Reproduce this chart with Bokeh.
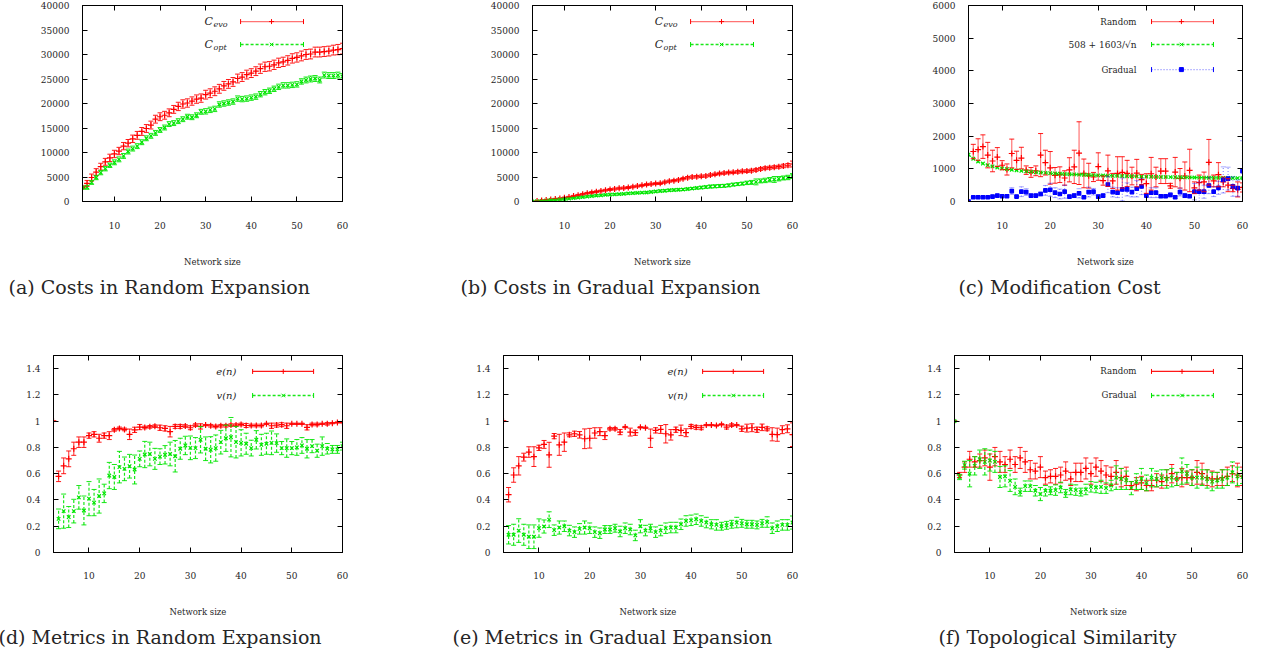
import math
from bokeh.plotting import figure
from bokeh.layouts import column, row
from bokeh.models import (ColumnDataSource, Whisker, TeeHead, LinearAxis, FixedTicker,
                          PrintfTickFormatter, CustomJSTickFormatter, Label, Title, Range1d,
                          GlobalInlineStyleSheet)
from bokeh.embed import file_html
from bokeh.resources import INLINE

# ---------------- data ----------------
N = list(range(3, 61))
X_TICKS = [10, 20, 30, 40, 50, 60]
COST_TICKS = [0, 5000, 10000, 15000, 20000, 25000, 30000, 35000, 40000]
MOD_TICKS = [0, 1000, 2000, 3000, 4000, 5000, 6000]
METRIC_TICKS = [0, 0.2, 0.4, 0.6, 0.8, 1.0, 1.2, 1.4]

# (a) Costs in Random Expansion
A_EVO = [2900, 3700, 4900, 6000, 7100, 8100, 8900, 9700, 10300, 11300,
         11900, 12800, 13500, 14300, 14900, 15600, 16800, 17300, 17600, 18100,
         18800, 19400, 19900, 20100, 20500, 20900, 21100, 21800, 22100, 22500,
         23000, 23600, 24000, 24400, 25100, 25400, 25900, 26200, 26600, 27100,
         27500, 27600, 27900, 28300, 28500, 28800, 29200, 29400, 29700, 30000,
         30100, 30500, 30500, 30600, 30700, 30900, 31000, 31200]
A_EVO_ERR = [300, 600, 700, 700, 700, 700, 750, 750, 750, 750,
             750, 750, 800, 800, 800, 800, 800, 800, 800, 800,
             800, 850, 850, 850, 850, 850, 850, 900, 900, 900,
             900, 900, 900, 900, 900, 900, 900, 900, 900, 950,
             950, 950, 950, 950, 950, 950, 950, 950, 1000, 1000,
             1000, 1000, 1000, 1000, 1000, 1000, 1050, 1100]
A_OPT = [2800, 2900, 3900, 4900, 5900, 6700, 7400, 8000, 8600, 9300,
         10200, 10800, 11300, 12100, 12900, 13400, 14000, 14600, 15100, 15800,
         16000, 16400, 16800, 17300, 17200, 17600, 18300, 18400, 18700, 18900,
         19800, 20000, 20200, 20400, 21000, 20900, 21000, 21200, 21400, 21900,
         22300, 22600, 23000, 23400, 23700, 23700, 23800, 23900, 24500, 24800,
         25000, 25100, 24800, 25800, 25700, 25700, 25800, 25500]
A_OPT_ERR = [200, 400, 400, 450, 450, 450, 450, 500, 500, 500,
             500, 500, 500, 500, 500, 500, 500, 500, 500, 500,
             500, 500, 500, 500, 500, 500, 500, 550, 550, 550,
             550, 550, 550, 550, 550, 550, 550, 550, 550, 550,
             550, 550, 550, 550, 550, 550, 550, 550, 550, 600,
             600, 600, 600, 600, 600, 600, 600, 600]

# (b) Costs in Gradual Expansion
B_EVO = [0, 100, 200, 300, 400, 500, 600, 750, 900, 1100,
         1300, 1500, 1700, 1850, 2000, 2150, 2300, 2450, 2550, 2700,
         2750, 2850, 3000, 3150, 3300, 3450, 3550, 3650, 3700, 3950,
         4150, 4250, 4400, 4650, 4850, 5000, 5050, 5150, 5200, 5400,
         5550, 5700, 5800, 5900, 5950, 6050, 6150, 6200, 6300, 6450,
         6650, 6800, 6900, 7000, 7100, 7250, 7400, 7650]
B_EVO_ERR = [0, 50, 80, 100, 100, 120, 120, 150, 150, 150,
             150, 150, 150, 180, 180, 180, 180, 200, 200, 200,
             200, 200, 200, 200, 200, 200, 200, 200, 220, 220,
             220, 220, 220, 220, 250, 250, 250, 250, 250, 250,
             250, 250, 250, 250, 250, 280, 280, 280, 300, 300,
             300, 300, 300, 300, 300, 350, 350, 600]
B_OPT = [0, 50, 100, 200, 300, 350, 450, 500, 600, 700,
         800, 900, 1000, 1100, 1200, 1250, 1350, 1400, 1450, 1500,
         1550, 1650, 1700, 1750, 1800, 1850, 1950, 2050, 2150, 2200,
         2300, 2350, 2400, 2450, 2550, 2650, 2750, 2850, 2950, 3050,
         3100, 3150, 3200, 3300, 3450, 3550, 3650, 3800, 3900, 4000,
         4200, 4300, 4450, 4500, 4650, 4800, 4900, 5200]
B_OPT_ERR = [0, 40, 60, 80, 100, 100, 100, 120, 120, 120,
             120, 130, 130, 130, 140, 140, 140, 150, 150, 150,
             150, 150, 150, 150, 150, 150, 160, 160, 200, 200,
             200, 200, 200, 200, 200, 200, 200, 250, 250, 300,
             300, 300, 300, 300, 300, 300, 300, 350, 400, 600,
             400, 450, 450, 600, 450, 400, 450, 500]

# (c) Modification Cost
C_RAND = [0, 1530, 1590, 1680, 1420, 1240, 1360, 1110, 980, 1470,
          1260, 1330, 960, 890, 940, 1420, 1190, 1030, 800, 820,
          720, 970, 1060, 1480, 860, 790, 750, 1070, 640, 940,
          630, 860, 890, 860, 780, 870, 670, 550, 850, 750,
          930, 930, 480, 900, 710, 780, 950, 420, 580, 600,
          1200, 630, 820, 600, 500, 400, 370, 430]
C_RAND_ERR = [0, 220, 330, 360, 390, 330, 290, 140, 170, 440,
              280, 330, 130, 150, 150, 660, 380, 500, 240, 240,
              220, 370, 510, 960, 440, 380, 140, 420, 140, 480,
              230, 510, 480, 400, 270, 420, 160, 300, 500, 300,
              380, 380, 75, 450, 300, 430, 650, 180, 230, 300,
              700, 180, 370, 150, 200, 100, 230, 140]
C_FIT = [1434, 1310, 1225, 1162, 1114, 1075, 1042, 1015, 991, 971,
         953, 936, 922, 909, 897, 886, 876, 866, 858, 850,
         842, 835, 829, 822, 817, 811, 806, 801, 796, 791,
         787, 783, 779, 775, 772, 768, 765, 761, 758, 755,
         752, 750, 747, 744, 742, 739, 737, 735, 732, 730,
         728, 726, 724, 722, 720, 718, 717, 715]
C_GRAD = [0, 130, 130, 130, 130, 150, 180, 160, 160, 320,
          150, 300, 290, 180, 180, 230, 340, 360, 270, 230,
          300, 150, 180, 250, 130, 290, 300, 150, 180, 520,
          290, 270, 370, 370, 290, 390, 460, 180, 270, 270,
          160, 160, 200, 130, 290, 180, 160, 300, 300, 300,
          490, 300, 420, 660, 700, 460, 410, 930]
C_GRAD_ERR = [0, 20, 20, 20, 20, 20, 30, 20, 20, 100,
              30, 150, 100, 40, 40, 60, 150, 200, 150, 150,
              200, 40, 60, 140, 30, 150, 100, 50, 40, 250,
              150, 150, 350, 200, 150, 250, 250, 40, 150, 150,
              40, 40, 60, 40, 120, 60, 40, 250, 300, 200,
              250, 150, 200, 400, 350, 300, 250, 930]

# (d) Metrics in Random Expansion
D_E = [1.0, 0.58, 0.66, 0.713, 0.79, 0.84, 0.84, 0.89, 0.90, 0.87,
       0.89, 0.89, 0.934, 0.945, 0.937, 0.90, 0.934, 0.955, 0.952, 0.957,
       0.962, 0.95, 0.945, 0.92, 0.96, 0.96, 0.963, 0.95, 0.97, 0.96,
       0.97, 0.965, 0.96, 0.965, 0.965, 0.97, 0.97, 0.975, 0.967, 0.967,
       0.967, 0.967, 0.98, 0.965, 0.97, 0.973, 0.965, 0.98, 0.98, 0.98,
       0.953, 0.975, 0.975, 0.98, 0.98, 0.985, 0.99, 0.99]
D_E_ERR = [0, 0.04, 0.06, 0.06, 0.05, 0.04, 0.04, 0.02, 0.02, 0.03,
           0.02, 0.03, 0.01, 0.01, 0.01, 0.04, 0.02, 0.02, 0.01, 0.01,
           0.01, 0.02, 0.02, 0.04, 0.015, 0.015, 0.01, 0.015, 0.01, 0.02,
           0.005, 0.01, 0.01, 0.01, 0.01, 0.01, 0.01, 0.01, 0.015, 0.01,
           0.01, 0.01, 0.005, 0.02, 0.015, 0.015, 0.02, 0.005, 0.005, 0.005,
           0.02, 0.01, 0.01, 0.005, 0.01, 0.005, 0.005, 0.005]
D_V = [None, 0.256, 0.315, 0.27, 0.315, 0.42, 0.32, 0.41, 0.38, 0.43,
       0.45, 0.586, 0.575, 0.65, 0.637, 0.657, 0.632, 0.713, 0.746, 0.75,
       0.713, 0.73, 0.744, 0.75, 0.733, 0.79, 0.815, 0.797, 0.795, 0.858,
       0.79, 0.782, 0.795, 0.84, 0.87, 0.878, 0.84, 0.835, 0.828, 0.795,
       0.858, 0.82, 0.828, 0.835, 0.833, 0.795, 0.795, 0.795, 0.8, 0.815,
       0.79, 0.81, 0.775, 0.81, 0.79, 0.785, 0.785, 0.81]
D_V_ERR = [None, 0.075, 0.13, 0.08, 0.09, 0.09, 0.11, 0.13, 0.1, 0.13,
           0.07, 0.1, 0.095, 0.12, 0.09, 0.09, 0.11, 0.06, 0.1, 0.09,
           0.08, 0.06, 0.07, 0.09, 0.12, 0.08, 0.07, 0.09, 0.08, 0.1,
           0.09, 0.1, 0.1, 0.09, 0.1, 0.15, 0.12, 0.1, 0.08, 0.06,
           0.07, 0.08, 0.08, 0.09, 0.07, 0.05, 0.07, 0.05, 0.06, 0.06,
           0.07, 0.05, 0.05, 0.07, 0.04, 0.03, 0.03, 0.03]

# (e) Metrics in Gradual Expansion
E_E = [1.0, 0.44, 0.59, 0.66, 0.726, 0.765, 0.73, 0.797, 0.823, 0.744,
       0.886, 0.82, 0.84, 0.896, 0.904, 0.896, 0.866, 0.87, 0.91, 0.92,
       0.89, 0.942, 0.942, 0.917, 0.955, 0.917, 0.912, 0.953, 0.95, 0.87,
       0.93, 0.937, 0.904, 0.896, 0.935, 0.93, 0.912, 0.96, 0.953, 0.95,
       0.97, 0.97, 0.967, 0.975, 0.955, 0.97, 0.97, 0.942, 0.947, 0.95,
       0.935, 0.953, 0.942, 0.9, 0.897, 0.935, 0.942, 0.897]
E_E_ERR = [0, 0.055, 0.055, 0.07, 0.03, 0.04, 0.075, 0.02, 0.03, 0.095,
           0.02, 0.08, 0.07, 0.015, 0.02, 0.025, 0.075, 0.075, 0.04, 0.03,
           0.03, 0.01, 0.01, 0.02, 0.005, 0.03, 0.02, 0.005, 0.005, 0.07,
           0.02, 0.03, 0.07, 0.04, 0.02, 0.04, 0.03, 0.015, 0.015, 0.015,
           0.005, 0.005, 0.005, 0.005, 0.015, 0.01, 0.005, 0.02, 0.03, 0.03,
           0.02, 0.025, 0.015, 0.05, 0.05, 0.03, 0.03, 0.09]
E_V = [None, 0.135, 0.135, 0.167, 0.135, 0.12, 0.12, 0.186, 0.198, 0.25,
       0.17, 0.19, 0.2, 0.167, 0.155, 0.18, 0.19, 0.185, 0.155, 0.147,
       0.175, 0.175, 0.185, 0.16, 0.185, 0.175, 0.13, 0.2, 0.167, 0.185,
       0.155, 0.167, 0.185, 0.19, 0.19, 0.215, 0.24, 0.245, 0.253, 0.24,
       0.228, 0.215, 0.21, 0.2, 0.207, 0.215, 0.228, 0.222, 0.215, 0.215,
       0.21, 0.222, 0.232, 0.185, 0.2, 0.21, 0.21, 0.228]
E_V_ERR = [None, 0.07, 0.08, 0.09, 0.08, 0.09, 0.09, 0.07, 0.05, 0.06,
           0.04, 0.05, 0.04, 0.04, 0.04, 0.04, 0.05, 0.04, 0.04, 0.04,
           0.03, 0.03, 0.03, 0.04, 0.04, 0.04, 0.04, 0.05, 0.04, 0.03,
           0.04, 0.04, 0.04, 0.04, 0.04, 0.04, 0.04, 0.04, 0.04, 0.04,
           0.04, 0.035, 0.04, 0.03, 0.03, 0.03, 0.04, 0.03, 0.03, 0.03,
           0.03, 0.03, 0.04, 0.04, 0.04, 0.04, 0.04, 0.05]

# (f) Topological Similarity
F_RAND = [1.0, 0.59, 0.65, 0.71, 0.69, 0.70, 0.72, 0.65, 0.73, 0.69,
          0.67, 0.71, 0.67, 0.72, 0.69, 0.63, 0.62, 0.65, 0.57, 0.58,
          0.58, 0.59, 0.62, 0.56, 0.61, 0.61, 0.64, 0.60, 0.65, 0.62,
          0.59, 0.58, 0.61, 0.57, 0.58, 0.51, 0.52, 0.53, 0.51, 0.51,
          0.55, 0.54, 0.57, 0.60, 0.56, 0.57, 0.57, 0.57, 0.61, 0.60,
          0.57, 0.56, 0.56, 0.57, 0.58, 0.60, 0.59, 0.58]
F_RAND_ERR = [0, 0.02, 0.04, 0.06, 0.04, 0.05, 0.06, 0.10, 0.07, 0.08,
              0.06, 0.07, 0.06, 0.08, 0.08, 0.07, 0.06, 0.08, 0.05, 0.05,
              0.06, 0.06, 0.07, 0.05, 0.07, 0.07, 0.08, 0.08, 0.07, 0.08,
              0.07, 0.07, 0.09, 0.07, 0.07, 0.03, 0.05, 0.05, 0.04, 0.04,
              0.05, 0.05, 0.06, 0.07, 0.05, 0.07, 0.05, 0.06, 0.09, 0.08,
              0.06, 0.06, 0.05, 0.06, 0.07, 0.06, 0.09, 0.07]
F_GRAD = [1.0, 0.575, 0.665, 0.60, 0.66, 0.71, 0.69, 0.70, 0.69, 0.575,
          0.58, 0.545, 0.50, 0.46, 0.505, 0.505, 0.47, 0.445, 0.47, 0.47,
          0.475, 0.495, 0.45, 0.48, 0.475, 0.46, 0.48, 0.50, 0.495, 0.50,
          0.49, 0.51, 0.57, 0.56, 0.55, 0.49, 0.54, 0.56, 0.53, 0.57,
          0.56, 0.57, 0.56, 0.57, 0.56, 0.62, 0.60, 0.57, 0.57, 0.57,
          0.56, 0.54, 0.55, 0.56, 0.57, 0.61, 0.58, 0.575]
F_GRAD_ERR = [0, 0.02, 0.03, 0.1, 0.07, 0.07, 0.1, 0.08, 0.08, 0.08,
              0.08, 0.08, 0.06, 0.03, 0.04, 0.04, 0.04, 0.05, 0.04, 0.03,
              0.04, 0.04, 0.03, 0.04, 0.04, 0.03, 0.04, 0.04, 0.04, 0.05,
              0.04, 0.04, 0.09, 0.08, 0.07, 0.05, 0.06, 0.08, 0.06, 0.07,
              0.06, 0.06, 0.07, 0.07, 0.05, 0.1, 0.07, 0.06, 0.08, 0.06,
              0.07, 0.07, 0.06, 0.07, 0.06, 0.08, 0.07, 0.05]

CAPTIONS = ["(a) Costs in Random Expansion", "(b) Costs in Gradual Expansion",
            "(c) Modification Cost", "(d) Metrics in Random Expansion",
            "(e) Metrics in Gradual Expansion", "(f) Topological Similarity"]

# ---------------- style ----------------
FONT = "DejaVu Serif"
TXT = "#262626"
RED = "#ff0000"
GREEN = "#00e600"
BLUE = "#0000ff"
SOLID = "solid"
DASHED = "3 2"
DOTTED = "1 2"


def make_fig(xr, yr, yticks, fw, fh, bl, br, bt, bb, caption, cap_off, tick_standoff):
    p = figure(frame_width=fw, frame_height=fh, x_range=Range1d(*xr), y_range=Range1d(*yr),
               output_backend="svg", toolbar_location=None,
               x_axis_location=None, y_axis_location=None,
               min_border_left=bl, min_border_right=br, min_border_top=bt, min_border_bottom=bb,
               background_fill_color="white", border_fill_color="white")
    p.outline_line_color = "black"
    p.outline_line_alpha = 1.0
    for g in p.grid:
        g.visible = False
    blank = CustomJSTickFormatter(code="return ''")
    xb = LinearAxis(ticker=FixedTicker(ticks=X_TICKS), formatter=PrintfTickFormatter(format="%g"),
                    axis_label="Network size")
    yl = LinearAxis(ticker=FixedTicker(ticks=yticks), formatter=PrintfTickFormatter(format="%g"))
    xt = LinearAxis(ticker=FixedTicker(ticks=X_TICKS), formatter=blank)
    yrt = LinearAxis(ticker=FixedTicker(ticks=yticks), formatter=blank)
    p.add_layout(xb, "below")
    p.add_layout(yl, "left")
    p.add_layout(xt, "above")
    p.add_layout(yrt, "right")
    for ax in (xb, yl, xt, yrt):
        ax.major_tick_in = 5
        ax.major_tick_out = 0
        ax.minor_tick_line_color = None
        ax.axis_line_color = "black"
        ax.major_tick_line_color = "black"
        ax.major_label_text_font = FONT
        ax.major_label_text_font_size = "9px"
        ax.major_label_text_color = TXT
    xt.major_label_standoff = 0
    yrt.major_label_standoff = 0
    yl.major_label_standoff = 13
    xb.major_label_standoff = tick_standoff
    xb.axis_label_text_font = FONT
    xb.axis_label_text_font_size = "8.5px"
    xb.axis_label_text_font_style = "normal"
    xb.axis_label_text_color = TXT
    xb.axis_label_standoff = 25
    cap = Title(text=caption, align="left", offset=cap_off, text_font=FONT,
                text_font_size="19px", text_font_style="normal", text_color=TXT, standoff=8)
    p.add_layout(cap, "below")
    return p


def err_series(p, ys, es, color, dash, marker, msize, alpha, head_alpha=0.9):
    pts = [(n, y, e) for n, y, e in zip(N, ys, es) if y is not None]
    src = ColumnDataSource(dict(x=[t[0] for t in pts], y=[t[1] for t in pts],
                                lo=[t[1] - t[2] for t in pts], hi=[t[1] + t[2] for t in pts]))
    w = Whisker(source=src, base="x", lower="lo", upper="hi", dimension="height",
                line_color=color, line_alpha=alpha, line_dash=dash, line_width=1.2,
                lower_head=TeeHead(size=5, line_color=color, line_width=1, line_alpha=head_alpha),
                upper_head=TeeHead(size=5, line_color=color, line_width=1, line_alpha=head_alpha))
    w.level = "glyph"
    p.add_layout(w)
    p.scatter("x", "y", source=src, marker=marker, size=msize, line_color=color,
              fill_color=color, line_width=1.2)


def legend_text(p, xr, yr, fx, fy, text, size, style="normal", align="right", yoff=0):
    p.add_layout(Label(x=xr[0] + fx * (xr[1] - xr[0]), y=yr[1] - fy * (yr[1] - yr[0]),
                       text=text, text_align=align, text_baseline="middle", text_font=FONT,
                       text_font_size=size, text_font_style=style, text_color=TXT, y_offset=yoff))


def legend_sample(p, xr, yr, fx0, fx1, fxm, fy, color, dash, marker, msize, alpha):
    x0 = xr[0] + fx0 * (xr[1] - xr[0])
    x1 = xr[0] + fx1 * (xr[1] - xr[0])
    xm = xr[0] + fxm * (xr[1] - xr[0])
    y = yr[1] - fy * (yr[1] - yr[0])
    p.segment(x0=[x0], y0=[y], x1=[x1], y1=[y], line_color=color, line_dash=dash,
              line_alpha=alpha, line_width=1.3)
    p.scatter(x=[x0, x1], y=[y, y], marker="dash", angle=math.pi / 2, size=5, line_color=color)
    p.scatter(x=[xm], y=[y], marker=marker, size=msize, line_color=color, fill_color=color)


XR = (3, 60)
R1 = dict(bt=5, fh=196, bb=139, tick_standoff=20)
R2 = dict(bt=15, fh=197, bb=98, tick_standoff=19)

# ---- (a)
yr_a = (0, 40000)
pa = make_fig(XR, yr_a, COST_TICKS, 260, R1["fh"], 82, 95, R1["bt"], R1["bb"], CAPTIONS[0], -74, R1["tick_standoff"])
err_series(pa, A_EVO, A_EVO_ERR, RED, SOLID, "cross", 6, 0.55)
err_series(pa, A_OPT, A_OPT_ERR, GREEN, DASHED, "x", 5, 0.8)
legend_text(pa, XR, yr_a, 0.469, 0.082, "C", "11px", "italic", "left")
legend_text(pa, XR, yr_a, 0.504, 0.082, "evo", "8px", "italic", "left", -3)
legend_text(pa, XR, yr_a, 0.469, 0.199, "C", "11px", "italic", "left")
legend_text(pa, XR, yr_a, 0.504, 0.199, "opt", "8px", "italic", "left", -3)
legend_sample(pa, XR, yr_a, 0.608, 0.85, 0.727, 0.082, RED, SOLID, "cross", 5, 0.55)
legend_sample(pa, XR, yr_a, 0.608, 0.85, 0.727, 0.199, GREEN, DASHED, "x", 5, 0.9)

# ---- (b)
pb = make_fig(XR, yr_a, COST_TICKS, 260, R1["fh"], 95, 88, R1["bt"], R1["bb"], CAPTIONS[1], -72, R1["tick_standoff"])
err_series(pb, B_EVO, B_EVO_ERR, RED, SOLID, "cross", 6, 0.55)
err_series(pb, B_OPT, B_OPT_ERR, GREEN, DASHED, "x", 5, 0.8)
legend_text(pb, XR, yr_a, 0.47, 0.082, "C", "11px", "italic", "left")
legend_text(pb, XR, yr_a, 0.504, 0.082, "evo", "8px", "italic", "left", -3)
legend_text(pb, XR, yr_a, 0.47, 0.199, "C", "11px", "italic", "left")
legend_text(pb, XR, yr_a, 0.504, 0.199, "opt", "8px", "italic", "left", -3)
legend_sample(pb, XR, yr_a, 0.608, 0.85, 0.727, 0.082, RED, SOLID, "cross", 5, 0.55)
legend_sample(pb, XR, yr_a, 0.608, 0.85, 0.727, 0.199, GREEN, DASHED, "x", 5, 0.9)

# ---- (c)
yr_c = (0, 6000)
pc = make_fig(XR, yr_c, MOD_TICKS, 274, R1["fh"], 88, 17, R1["bt"], R1["bb"], CAPTIONS[2], -10, R1["tick_standoff"])
err_series(pc, C_RAND, C_RAND_ERR, RED, SOLID, "cross", 6, 0.55)
pc.line(N, C_FIT, line_color=GREEN, line_dash=DASHED, line_width=1.2)
pc.scatter(N, C_FIT, marker="x", size=5, line_color=GREEN, line_width=1.2)
err_series(pc, C_GRAD, C_GRAD_ERR, BLUE, DOTTED, "square", 3.5, 0.45, 0.35)
legend_text(pc, XR, yr_c, 0.613, 0.082, "Random", "8.6px")
legend_text(pc, XR, yr_c, 0.613, 0.199, "508 + 1603/\u221an", "9px")
legend_text(pc, XR, yr_c, 0.613, 0.327, "Gradual", "8.6px")
legend_sample(pc, XR, yr_c, 0.668, 0.894, 0.777, 0.082, RED, SOLID, "cross", 5, 0.55)
legend_sample(pc, XR, yr_c, 0.668, 0.894, 0.777, 0.199, GREEN, DASHED, "x", 5, 0.9)
legend_sample(pc, XR, yr_c, 0.668, 0.894, 0.777, 0.327, BLUE, DOTTED, "square", 4, 0.5)

# ---- (d)
yr_m = (0, 1.5)
pd_ = make_fig(XR, yr_m, METRIC_TICKS, 289, R2["fh"], 53, 95, R2["bt"], R2["bb"], CAPTIONS[3], -55, R2["tick_standoff"])
err_series(pd_, D_E, D_E_ERR, RED, SOLID, "cross", 6, 0.7)
err_series(pd_, D_V, D_V_ERR, GREEN, DASHED, "x", 5, 0.9)
legend_text(pd_, XR, yr_m, 0.633, 0.081, "e(n)", "10px", "italic")
legend_text(pd_, XR, yr_m, 0.633, 0.203, "v(n)", "10px", "italic")
legend_sample(pd_, XR, yr_m, 0.689, 0.9, 0.795, 0.081, RED, SOLID, "cross", 5, 0.9)
legend_sample(pd_, XR, yr_m, 0.689, 0.9, 0.795, 0.203, GREEN, DASHED, "x", 5, 0.9)

# ---- (e)
pe = make_fig(XR, yr_m, METRIC_TICKS, 289, R2["fh"], 66, 88, R2["bt"], R2["bb"], CAPTIONS[4], -51, R2["tick_standoff"])
err_series(pe, E_E, E_E_ERR, RED, SOLID, "cross", 6, 0.7)
err_series(pe, E_V, E_V_ERR, GREEN, DASHED, "x", 5, 0.9)
legend_text(pe, XR, yr_m, 0.637, 0.081, "e(n)", "10px", "italic")
legend_text(pe, XR, yr_m, 0.637, 0.203, "v(n)", "10px", "italic")
legend_sample(pe, XR, yr_m, 0.689, 0.9, 0.795, 0.081, RED, SOLID, "cross", 5, 0.9)
legend_sample(pe, XR, yr_m, 0.689, 0.9, 0.795, 0.203, GREEN, DASHED, "x", 5, 0.9)

# ---- (f)
pf = make_fig(XR, yr_m, METRIC_TICKS, 288, R2["fh"], 74, 17, R2["bt"], R2["bb"], CAPTIONS[5], -16, R2["tick_standoff"])
err_series(pf, F_RAND, F_RAND_ERR, RED, SOLID, "cross", 6, 0.6)
err_series(pf, F_GRAD, F_GRAD_ERR, GREEN, DASHED, "x", 5, 0.9)
legend_text(pf, XR, yr_m, 0.632, 0.081, "Random", "8.6px")
legend_text(pf, XR, yr_m, 0.632, 0.203, "Gradual", "8.6px")
legend_sample(pf, XR, yr_m, 0.684, 0.899, 0.79, 0.081, RED, SOLID, "cross", 5, 0.9)
legend_sample(pf, XR, yr_m, 0.684, 0.899, 0.79, 0.203, GREEN, DASHED, "x", 5, 0.9)

layout = column(row(pa, pb, pc, spacing=0), row(pd_, pe, pf, spacing=0), spacing=0)
layout.stylesheets = [GlobalInlineStyleSheet(css="html, body { margin: 0; padding: 0; overflow: hidden; }")]

open("out.html", "w").write(file_html(layout, INLINE, title="Network expansion costs and metrics"))
